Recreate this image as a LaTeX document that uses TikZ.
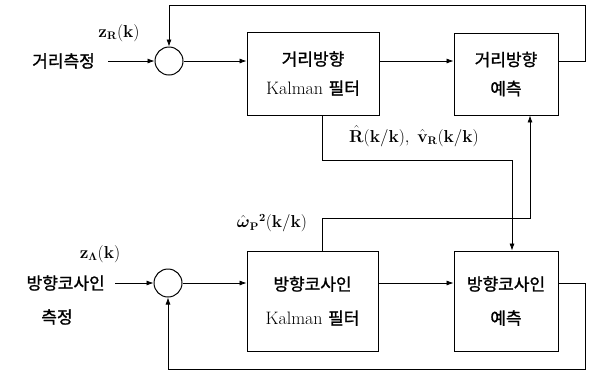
\documentclass[tikz,border=0pt]{standalone}
\usepackage{amsmath}
\usepackage[no-math]{fontspec}
\newfontfamily\kr{Noto Sans CJK KR}[AutoFakeBold=1.3]
\usetikzlibrary{arrows.meta}
\newcommand{\krb}{\kr\bfseries}
\begin{document}
\begin{tikzpicture}[x=1pt,y=-1pt,
  box/.style={draw, line width=0.9pt, inner sep=0pt, align=center},
  arr/.style={-{Latex[length=7pt,width=5pt]}, line width=0.7pt},
  wire/.style={line width=0.7pt},
  sumc/.style={circle, draw, line width=1pt, minimum size=28pt, inner sep=0pt},
  kt/.style={font=\krb\fontsize{17}{20}\selectfont, inner sep=0pt},
  lab/.style={font=\fontsize{16}{18}\selectfont, inner sep=0pt}]
\useasboundingbox (0,0) rectangle (593,384);

% blocks
\node[box, minimum width=132pt, minimum height=83pt, font=\fontsize{18}{29}\selectfont]
  (box1) at (313,73.5) {{\krb\fontsize{17}{29}\selectfont 거리방향}\\Kalman {\krb\fontsize{17}{29}\selectfont 필터}};
\node[box, minimum width=104pt, minimum height=82pt, font=\fontsize{17}{29}\selectfont]
  (box2) at (506,74) {{\krb 거리방향}\\{\krb 예측}};
\node[box, minimum width=131pt, minimum height=100pt, font=\fontsize{18}{34}\selectfont]
  (box3) at (312.5,301) {{\krb\fontsize{17}{34}\selectfont 방향코사인}\\Kalman {\krb\fontsize{17}{34}\selectfont 필터}};
\node[box, minimum width=104pt, minimum height=100pt, font=\fontsize{17}{34}\selectfont]
  (box4) at (506,301) {{\krb 방향코사인}\\{\krb 예측}};

% summing junctions
\node[sumc] (sum1) at (169,61) {};
\node[sumc] (sum2) at (168,283) {};

% input labels
\node[kt, anchor=east] (l1) at (95,61) {거리측정};
\node[kt, anchor=east] (l2) at (105,283) {방향코사인};
\node[kt] (l3) at (57,317) {측정};
\node[lab] (zr) at (119,33) {$\mathbf{z}_{\mathbf{R}}\mathbf{(k)}$};
\node[lab] (zl) at (100,254) {$\mathbf{z}_{\mathbf{\Lambda}}\mathbf{(k)}$};
\node[lab] (rv) at (414,136) {$\hat{\mathbf{R}}\mathbf{(k/k)},\ \hat{\mathbf{v}}_{\mathbf{R}}\mathbf{(k/k)}$};
\node[lab] (wp) at (272,223) {$\hat{\boldsymbol{\omega}}_{\mathbf{P}}{}^{\mathbf{2}}\mathbf{(k/k)}$};

% helper coordinates
\coordinate (c1) at (322,160);
\coordinate (c2) at (512,160);
\coordinate (c3) at (530,218);
\coordinate (c4) at (322,218);
\coordinate (t1) at (585,5);
\coordinate (t2) at (585,369);

% inputs
\draw[arr] (l1.east) ++(13,0) -- (sum1.west);
\draw[arr] (l2.east) ++(10,0) -- (sum2.west);
\draw[arr] (sum1.east) -- (box1.west |- sum1);
\draw[arr] (sum2.east) -- (box3.west |- sum2);

% forward paths
\draw[arr] (box1.east |- sum1) -- (box2.west |- sum1);
\draw[arr] (box3.east |- sum2) -- (box4.west |- sum2);

% cross couplings
\draw[arr] (box1.south -| c1) |- (c2) -- (box4.north -| c2);
\draw[arr] (box3.north -| c4) |- (c3) -- (box2.south -| c3);

% feedback loops
\draw[arr] (box2.east |- sum1) -| (t1) -| (sum1.north);
\draw[arr] (box4.east |- sum2) -| (t2) -| (sum2.south);
\end{tikzpicture}
\end{document}
